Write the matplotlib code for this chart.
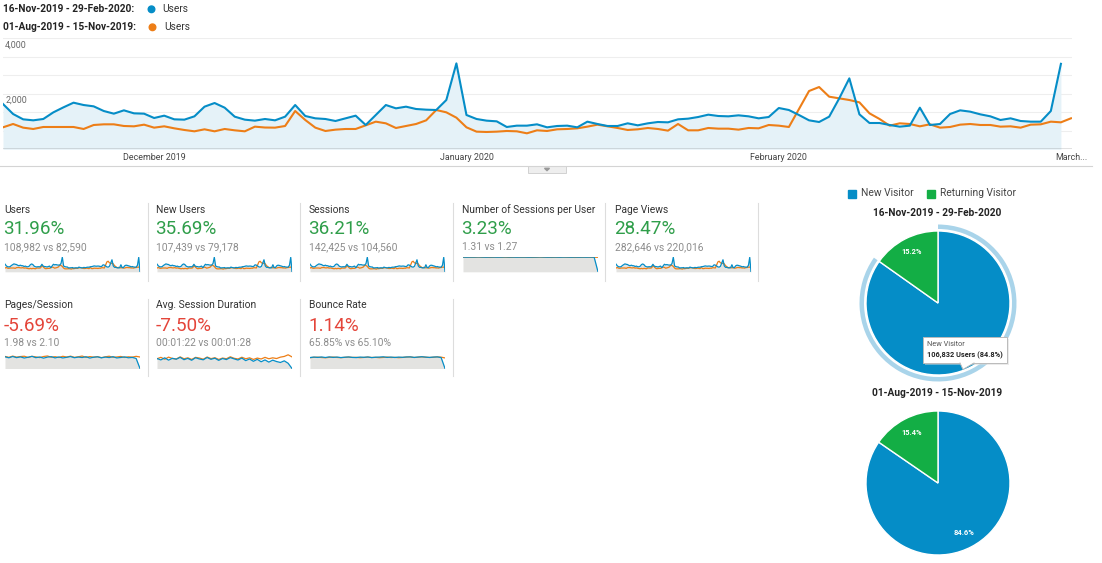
import matplotlib
matplotlib.use('Agg')
import matplotlib.pyplot as plt
import numpy as np
from matplotlib.patches import Rectangle, Circle, Wedge, Polygon

plt.rcParams['font.family'] = ['Roboto', 'DejaVu Sans']

# ---------------- data ----------------
period_current = "16-Nov-2019 - 29-Feb-2020"
period_previous = "01-Aug-2019 - 15-Nov-2019"
metric_name = "Users"

users_current = [
    1632, 1272, 1080, 1044, 1092, 1332, 1512, 1680, 1596, 1548,
    1380, 1284, 1404, 1296, 1284, 1128, 1212, 1080, 1068, 1188,
    1536, 1668, 1500, 1176, 1068, 1032, 1092, 1044, 1176, 1596,
    1200, 1116, 1092, 1020, 1116, 1212, 876, 1236, 1596, 1476,
    1536, 1452, 1428, 1416, 1776, 3096, 1236, 1092, 1032, 1008,
    804, 852, 852, 900, 792, 840, 852, 792, 996, 912,
    840, 840, 936, 864, 936, 984, 972, 1080, 1104, 1164,
    1248, 1200, 1188, 1224, 1188, 1116, 1164, 1488, 1416, 1236,
    1044, 984, 1176, 1836, 2556, 1260, 948, 948, 876, 816,
    852, 1500, 876, 912, 1272, 1404, 1356, 1260, 1188, 1056,
    1116, 1020, 996, 996, 1380, 3080]
users_previous = [
    792, 912, 780, 732, 804, 804, 804, 804, 732, 876,
    900, 900, 840, 828, 888, 780, 828, 756, 696, 648,
    720, 648, 732, 684, 648, 816, 785, 780, 840, 1380,
    1056, 780, 660, 708, 732, 732, 864, 996, 936, 768,
    840, 912, 1044, 1416, 1332, 1140, 792, 636, 624, 636,
    660, 648, 576, 684, 660, 720, 732, 756, 816, 888,
    828, 768, 696, 720, 768, 732, 672, 912, 684, 684,
    768, 744, 744, 708, 768, 756, 876, 852, 804, 1450,
    2100, 2244, 1896, 1836, 1776, 1692, 1296, 1092, 852, 936,
    912, 828, 900, 780, 804, 888, 912, 876, 876, 816,
    828, 780, 888, 900, 996, 972, 1117]
partial_last_day = [0]

x_tick_pos = [15, 46, 77, 106]
x_tick_labels = ["December 2019", "January 2020", "February 2020", "March..."]
y_labels = [(4000, "4,000"), (2000, "2,000")]

card_titles = ["Users", "New Users", "Sessions", "Number of Sessions per User", "Page Views",
               "Pages/Session", "Avg. Session Duration", "Bounce Rate"]
card_changes = ["31.96%", "35.69%", "36.21%", "3.23%", "28.47%", "-5.69%", "-7.50%", "1.14%"]
card_compare = ["108,982 vs 82,590", "107,439 vs 79,178", "142,425 vs 104,560", "1.31 vs 1.27",
                "282,646 vs 220,016", "1.98 vs 2.10", "00:01:22 vs 00:01:28", "65.85% vs 65.10%"]
card_good = [True, True, True, True, True, False, False, False]

nspu_current = [1.31, 1.30, 1.31, 1.31, 1.32, 1.31, 1.30, 1.31, 1.31, 1.30, 1.31, 1.32, 1.31, 1.31, 1.30, 1.31,
                1.31, 1.30, 1.31, 1.31, 1.32, 1.31, 1.30, 1.31, 1.31, 1.30, 1.31, 1.31, 1.30, 1.31, 1.30, 1.31,
                1.30, 1.31, 1.30, 0.0]
nspu_previous = [1.29, 1.30, 1.29, 1.29, 1.30, 1.29, 1.29, 1.28, 1.29, 1.30, 1.29, 1.29, 1.28, 1.29, 1.30, 1.29,
                 1.29, 1.29, 1.28, 1.29, 1.30, 1.29, 1.29, 1.28, 1.29, 1.29, 1.30, 1.29, 1.29, 1.28, 1.29, 1.29,
                 1.30, 1.29, 1.29, 1.29]
pps_current = [2.10, 1.92, 2.15, 1.95, 2.08, 1.88, 2.02, 2.18, 1.94, 2.06, 1.86, 2.04, 2.12, 1.90, 2.07, 1.89,
               2.01, 2.14, 1.93, 2.05, 1.97, 2.11, 1.87, 2.03, 2.09, 1.91, 2.05, 1.96, 2.12, 1.89, 1.98, 2.08,
               1.92, 1.99, 1.80, 0.0]
pps_previous = [2.16, 2.00, 2.22, 2.04, 2.14, 2.20, 1.98, 2.18, 2.08, 1.96, 2.15, 2.24, 2.02, 2.12, 1.97, 2.19,
                2.05, 2.21, 2.00, 2.10, 2.23, 1.99, 2.14, 2.03, 2.12, 1.95, 2.09, 2.20, 2.01, 2.07, 2.16, 1.98,
                2.10, 2.04, 2.18, 2.06]
asd_current = [86, 74, 92, 72, 88, 80, 96, 76, 87, 71, 93, 82, 75, 95, 79, 89, 70, 86, 77, 94, 83, 73, 90, 68,
               82, 62, 79, 58, 74, 55, 72, 60, 52, 66, 45, 0]
asd_previous = [84, 96, 80, 98, 86, 82, 100, 84, 92, 78, 96, 90, 80, 99, 85, 93, 78, 90, 84, 101, 88, 82, 97, 84,
                92, 78, 90, 82, 96, 84, 92, 86, 98, 104, 118, 100]
br_current = [64, 67, 65, 67.5, 64.5, 68, 65, 67, 64, 66, 67.5, 65, 64, 67, 65.5, 67.5, 64, 66, 67, 68.5,
              65, 67, 64.5, 67, 65.5, 67.5, 68, 65, 67, 69, 66.5, 65, 67, 68, 64, 0]
br_previous = [63.5, 65.5, 66.5, 64.5, 63, 65.5, 67, 65, 63.5, 65.5, 67, 65, 65.5, 63.5, 65, 67, 64.5, 65.5,
               63.5, 65, 67, 64.5, 65.5, 63.5, 65, 67, 68, 64.5, 66.5, 68, 66.5, 64.5, 66, 68, 66.5, 62]

pie_labels = ["New Visitor", "Returning Visitor"]
pie_current = [84.8, 15.2]
pie_previous = [84.6, 15.4]
tooltip_title = "New Visitor"
tooltip_value = "106,832 Users (84.8%)"

# ---------------- style ----------------
BLUE = '#058DC7'
ORANGE = '#ED7E17'
GREEN_PIE = '#13AE45'
GOOD = '#2f9e4a'
BAD = '#e4453a'
W, H = 1102, 563

fig = plt.figure(figsize=(W / 100, H / 100), dpi=100)
fig.patch.set_facecolor('white')


def ax_px(x0, y0, x1, y1, z=1):
    a = fig.add_axes([x0 / W, 1 - y1 / H, (x1 - x0) / W, (y1 - y0) / H])
    a.set_zorder(z)
    return a


# background overlay in pixel coordinates
bg = ax_px(0, 0, W, H, z=0)
bg.set_xlim(0, W)
bg.set_ylim(H, 0)
bg.axis('off')

# header legend
bg.text(3, 9.5, period_current + ":", fontsize=7.3, fontweight='bold', color='#222', va='center', ha='left')
bg.add_patch(Circle((151.5, 9.3), 3.3, color=BLUE))
bg.text(162, 9.5, metric_name, fontsize=7.3, color='#333', va='center', ha='left')
bg.text(3, 27.5, period_previous + ":", fontsize=7.3, fontweight='bold', color='#222', va='center', ha='left')
bg.add_patch(Circle((152.5, 27.3), 3.3, color=ORANGE))
bg.text(164, 27.5, metric_name, fontsize=7.3, color='#333', va='center', ha='left')

# ---------------- main chart ----------------
main = ax_px(3, 38.3, 1072, 149.3, z=2)
main.patch.set_visible(False)
xc = np.arange(len(users_current))
xp = np.arange(len(users_previous))
for v in np.linspace(0, 4000, 7)[1:]:
    main.axhline(v, color='#eeeeee', lw=0.8, zorder=0)
main.fill_between(xc, users_current, color='#e5f2f8', lw=0, zorder=1)
main.plot(xp, users_previous, color=ORANGE, lw=1.5, zorder=3, solid_joinstyle='round')
main.plot(xc, users_current, color=BLUE, lw=1.5, zorder=4, solid_joinstyle='round')
main.axhline(0, color='#666666', lw=1.0, zorder=5)
main.set_xlim(0, 106.1)
main.set_ylim(0, 4000)
for s in main.spines.values():
    s.set_visible(False)
main.set_yticks([])
main.set_xticks(x_tick_pos)
main.set_xticklabels(x_tick_labels, fontsize=6.4, color='#444')
main.tick_params(axis='x', length=0, pad=3)
for val, lab in y_labels:
    main.annotate(lab, xy=(0, val), xytext=(1.5, -1.5), textcoords='offset points',
                  ha='left', va='top', fontsize=6.4, color='#666')

# separator with tab
bg.plot([0, 1092], [166, 166], color='#d4d4d4', lw=0.8)
bg.add_patch(Rectangle((528, 166), 38, 6.5, facecolor='#eeeeee', edgecolor='#cccccc', lw=0.6))
bg.add_patch(Polygon([(544.5, 168.3), (549.5, 168.3), (547, 170.6)], closed=True, color='#999999'))

# ---------------- scorecards ----------------
col_x = [4, 156, 309, 462, 615]
card_col = [0, 1, 2, 3, 4, 0, 1, 2]
card_row = [0, 0, 0, 0, 0, 1, 1, 1]
title_y = [210, 305]
change_y = [229, 326]
compare_y = [247, 342.5]
spark_y = [(256.5, 271.8), (354, 368.5)]
sep_x = [147.5, 300, 452.5, 605, 758]
sep_y = [(203, 281), (299, 376)]

spark_cur = [users_current + partial_last_day] * 3 + [nspu_current, users_current + partial_last_day,
                                                      pps_current, asd_current, br_current]
spark_prev = [users_previous] * 3 + [nspu_previous, users_previous, pps_previous, asd_previous, br_previous]
spark_ymax = [3250, 3250, 3250, 1.36, 3250, 2.6, 125, 85]

for x in sep_x:
    bg.plot([x, x], sep_y[0], color='#dddddd', lw=0.8)
for x in sep_x[:3]:
    bg.plot([x, x], sep_y[1], color='#dddddd', lw=0.8)

for k in range(len(card_titles)):
    c, r = card_col[k], card_row[k]
    x0 = col_x[c]
    bg.text(x0, title_y[r], card_titles[k], fontsize=7.4, color='#333', va='center', ha='left')
    bg.text(x0 - 0.5, change_y[r], card_changes[k], fontsize=13.6, color=GOOD if card_good[k] else BAD,
            va='center', ha='left')
    bg.text(x0, compare_y[r], card_compare[k], fontsize=7.4, color='#8c8c8c', va='center', ha='left')
    y0, y1 = spark_y[r]
    sp = ax_px(x0 + 1, y0, x0 + 136, y1, z=2)
    cur = spark_cur[k]
    prev = spark_prev[k]
    sp.fill_between(np.arange(len(cur)), cur, color='#e3e3e1', lw=0)
    sp.plot(np.arange(len(prev)), prev, color=ORANGE, lw=0.9)
    sp.plot(np.arange(len(cur)), cur, color=BLUE, lw=0.9)
    sp.set_xlim(0, len(cur) - 1)
    sp.set_ylim(0, spark_ymax[k])
    sp.axis('off')

# ---------------- pies ----------------
bg.add_patch(Rectangle((847.5, 189.5), 8, 8, color=BLUE))
bg.text(861, 193.5, pie_labels[0], fontsize=7.4, color='#444', va='center', ha='left')
bg.add_patch(Rectangle((927, 189.5), 8, 8, color=GREEN_PIE))
bg.text(939.5, 193.5, pie_labels[1], fontsize=7.4, color='#444', va='center', ha='left')

bg.text(937.5, 213.5, period_current, fontsize=7.3, fontweight='bold', color='#222', va='center', ha='center')
bg.text(937.5, 392.5, period_previous, fontsize=7.3, fontweight='bold', color='#222', va='center', ha='center')


def draw_pie(cx, cy, vals, hovered=False):
    pa = ax_px(cx - 82, cy - 82, cx + 82, cy + 82, z=3)
    wedges, texts, autos = pa.pie(vals, colors=[BLUE, GREEN_PIE], startangle=90, counterclock=False,
                                  radius=72, autopct='%.1f%%', pctdistance=0.79,
                                  wedgeprops=dict(edgecolor='white', linewidth=1.0),
                                  textprops=dict(color='white', fontsize=5.4, fontweight='bold'))
    if hovered:
        w0 = wedges[0]
        pa.add_patch(Wedge((0, 0), 78.5, w0.theta1, w0.theta2, width=4.5, color='#a9d4ea', lw=0))
        # the hovered slice's label sits under the tooltip
        autos[0].set_visible(False)
    pa.set_xlim(-82, 82)
    pa.set_ylim(-82, 82)
    pa.set_aspect('equal')
    pa.axis('off')
    return pa


draw_pie(938, 303, pie_current, hovered=True)
draw_pie(938, 483, pie_previous)

# tooltip on top
top = ax_px(0, 0, W, H, z=10)
top.set_xlim(0, W)
top.set_ylim(H, 0)
top.axis('off')
top.add_patch(Rectangle((924.5, 338.5), 84, 26, facecolor='#d8d8d8', edgecolor='none', alpha=0.5))
top.add_patch(Rectangle((923, 337), 84, 26, facecolor='white', edgecolor='#bbbbbb', lw=0.7))
top.add_patch(Polygon([(960, 362.6), (974, 362.6), (963, 369.5)], closed=True, facecolor='white',
                      edgecolor='none'))
top.plot([960, 963, 974], [363, 369.5, 363], color='#bbbbbb', lw=0.7)
top.text(927, 344.5, tooltip_title, fontsize=5.3, color='#555', va='center', ha='left')
top.text(927, 355, tooltip_value, fontsize=5.3, fontweight='bold', color='#222', va='center', ha='left')

fig.savefig('out.png', dpi=100, facecolor='white')
